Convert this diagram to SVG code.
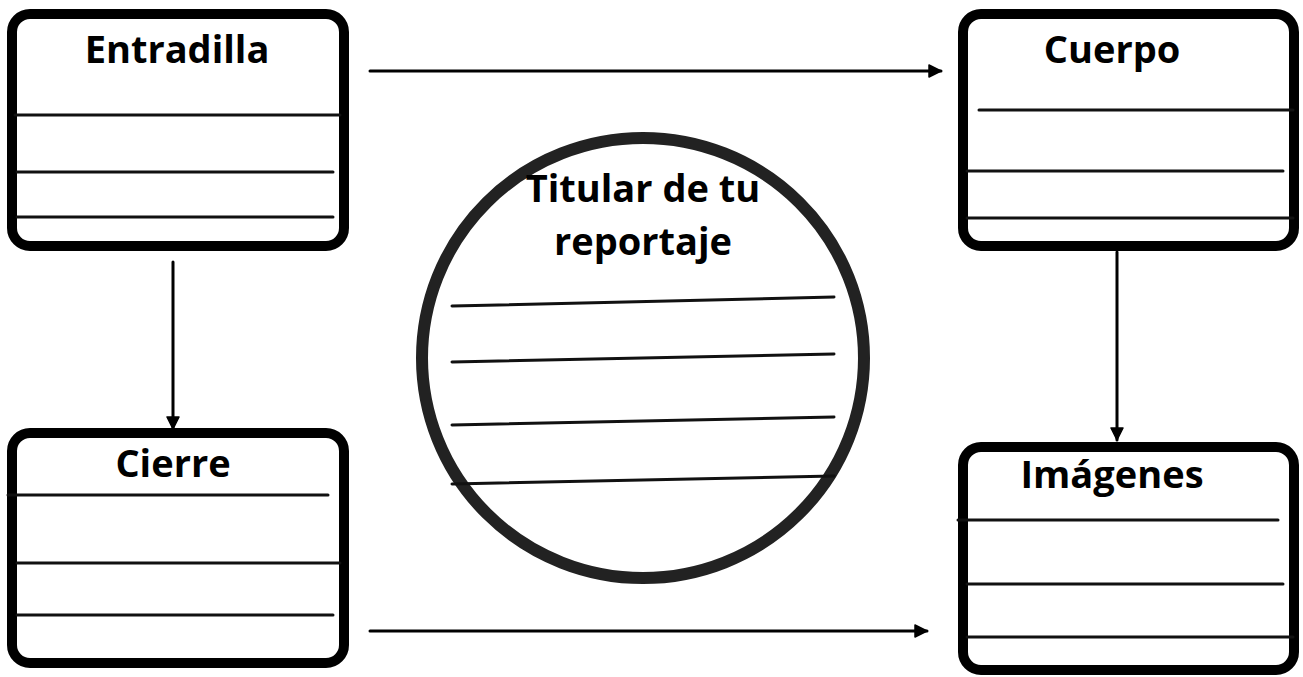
<svg xmlns="http://www.w3.org/2000/svg" width="1303" height="677" viewBox="0 0 1303 677">
  <style>
    .box { fill: #ffffff; stroke: #000000; stroke-width: 10; }
    .rule { stroke: #111111; stroke-width: 3; stroke-linecap: round; fill: none; }
    .circ { fill: #ffffff; stroke: #222222; stroke-width: 12; }
    .title { font-family: "Open Sans", "Noto Sans", "DejaVu Sans", sans-serif; font-weight: 700; font-size: 38px; fill: #000000; text-anchor: middle; }
    .conn { stroke: #000000; stroke-width: 3; fill: none; stroke-linecap: round; }
  </style>
  <defs>
    <marker id="arrow" markerUnits="userSpaceOnUse" markerWidth="16" markerHeight="16" viewBox="0 0 16 16" refX="13" refY="8" orient="auto">
      <path d="M1,2 L13,8 L1,14 Z" fill="#000000" stroke="#000000" stroke-width="1.5" stroke-linejoin="round"/>
    </marker>
  </defs>
  <rect width="1303" height="677" fill="#ffffff"/>

  <g id="connectors">
    <line class="conn" x1="370" y1="71" x2="941" y2="71" marker-end="url(#arrow)"/>
    <line class="conn" x1="173" y1="262" x2="173" y2="429" marker-end="url(#arrow)"/>
    <line class="conn" x1="1117" y1="252" x2="1117" y2="440" marker-end="url(#arrow)"/>
    <line class="conn" x1="370" y1="631" x2="927" y2="631" marker-end="url(#arrow)"/>
  </g>

  <g id="entradilla">
    <rect class="box" x="12" y="14" width="332" height="232" rx="18"/>
    <line class="rule" x1="15" y1="115" x2="340" y2="115"/>
    <line class="rule" x1="17" y1="172" x2="333" y2="172"/>
    <line class="rule" x1="17" y1="217" x2="333" y2="217"/>
    <text class="title" x="177" y="63">Entradilla</text>
  </g>

  <g id="cuerpo">
    <rect class="box" x="963" y="14" width="331" height="232" rx="18"/>
    <line class="rule" x1="979" y1="110" x2="1293" y2="110"/>
    <line class="rule" x1="967" y1="171" x2="1283" y2="171"/>
    <line class="rule" x1="967" y1="218" x2="1293" y2="218"/>
    <text class="title" x="1112" y="63">Cuerpo</text>
  </g>

  <g id="cierre">
    <rect class="box" x="12" y="433" width="332" height="230" rx="18"/>
    <line class="rule" x1="8" y1="495" x2="328" y2="495"/>
    <line class="rule" x1="17" y1="563" x2="340" y2="563"/>
    <line class="rule" x1="17" y1="615" x2="333" y2="615"/>
    <text class="title" x="173" y="477">Cierre</text>
  </g>

  <g id="imagenes">
    <rect class="box" x="963" y="447" width="331" height="223" rx="18"/>
    <line class="rule" x1="958" y1="520" x2="1278" y2="520"/>
    <line class="rule" x1="967" y1="584" x2="1283" y2="584"/>
    <line class="rule" x1="967" y1="637" x2="1293" y2="637"/>
    <text class="title" x="1112" y="488">Imágenes</text>
  </g>

  <g id="titular">
    <ellipse class="circ" cx="643" cy="358" rx="221" ry="220"/>
    <line class="rule" x1="452" y1="306" x2="834" y2="297"/>
    <line class="rule" x1="452" y1="362" x2="834" y2="354"/>
    <line class="rule" x1="452" y1="425" x2="834" y2="417"/>
    <line class="rule" x1="452" y1="484" x2="834" y2="476"/>
    <text class="title" x="643" y="202">Titular de tu</text>
    <text class="title" x="643" y="255">reportaje</text>
  </g>
</svg>
